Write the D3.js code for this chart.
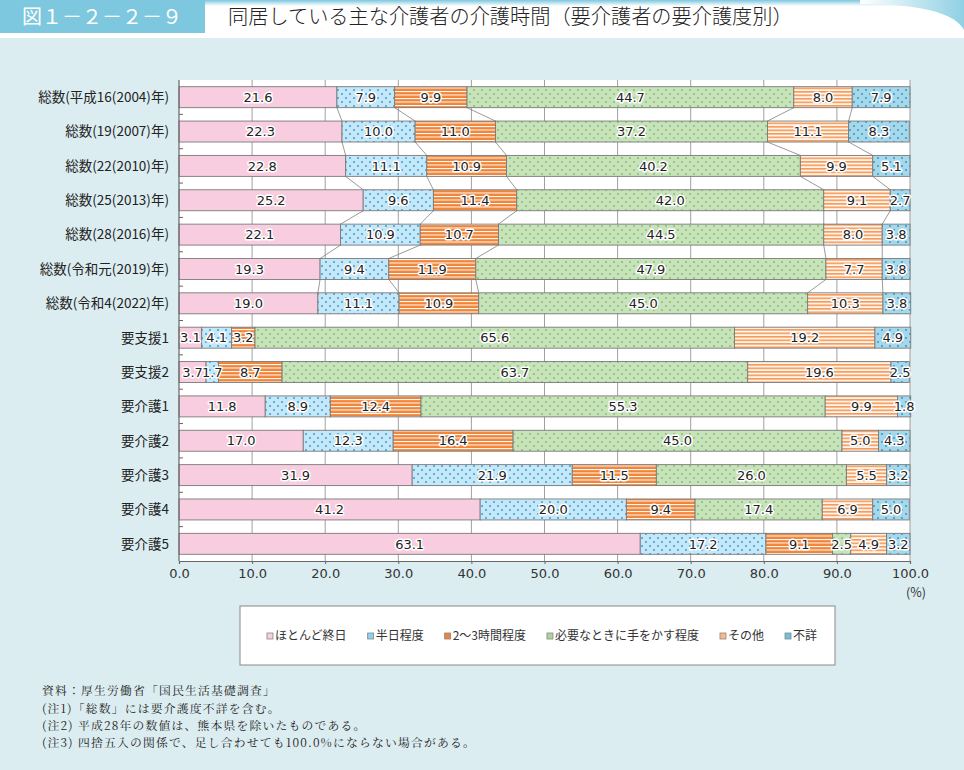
<!DOCTYPE html>
<html><head><meta charset="utf-8">
<script src="https://cdn.jsdelivr.net/npm/d3@7/dist/d3.min.js"></script>
<style>
html,body{margin:0;padding:0;background:#dcedf1;}
svg{display:block;}
</style></head>
<body>
<svg id="chart" width="964" height="770"></svg>
<script>
const categories = ["総数(平成16(2004)年)","総数(19(2007)年)","総数(22(2010)年)","総数(25(2013)年)","総数(28(2016)年)","総数(令和元(2019)年)","総数(令和4(2022)年)","要支援1","要支援2","要介護1","要介護2","要介護3","要介護4","要介護5"];
const seriesNames = ["ほとんど終日","半日程度","2～3時間程度","必要なときに手をかす程度","その他","不詳"];
const allDay   = [21.6,22.3,22.8,25.2,22.1,19.3,19.0,3.1,3.7,11.8,17.0,31.9,41.2,63.1];
const halfDay  = [7.9,10.0,11.1,9.6,10.9,9.4,11.1,4.1,1.7,8.9,12.3,21.9,20.0,17.2];
const twoThree = [9.9,11.0,10.9,11.4,10.7,11.9,10.9,3.2,8.7,12.4,16.4,11.5,9.4,9.1];
const asNeeded = [44.7,37.2,40.2,42.0,44.5,47.9,45.0,65.6,63.7,55.3,45.0,26.0,17.4,2.5];
const other    = [8.0,11.1,9.9,9.1,8.0,7.7,10.3,19.2,19.6,9.9,5.0,5.5,6.9,4.9];
const unknown  = [7.9,8.3,5.1,2.7,3.8,3.8,3.8,4.9,2.5,1.8,4.3,3.2,5.0,3.2];
const xTicks = [0,10,20,30,40,50,60,70,80,90,100];
const totalRows = 7;
const notes = ["資料：厚生労働省「国民生活基礎調査」","(注1)「総数」には要介護度不詳を含む。","(注2) 平成28年の数値は、熊本県を除いたものである。","(注3) 四捨五入の関係で、足し合わせても100.0%にならない場合がある。"];
const figNo = "図１－２－２－９";
const title = "同居している主な介護者の介護時間（要介護者の要介護度別）";

const series = [allDay,halfDay,twoThree,asNeeded,other,unknown];
const svg = d3.select("#chart");
const JP = "'Noto Sans CJK JP','Noto Sans',sans-serif";
const NUM = "'DejaVu Sans','Noto Sans CJK JP',sans-serif";

// defs: patterns
const defs = svg.append("defs");
function dots(id,bg,fg){
  const p = defs.append("pattern").attr("id",id).attr("patternUnits","userSpaceOnUse").attr("width",8).attr("height",8);
  p.append("rect").attr("width",8).attr("height",8).attr("fill",bg);
  p.append("circle").attr("cx",2).attr("cy",2).attr("r",0.9).attr("fill",fg);
  p.append("circle").attr("cx",6).attr("cy",6).attr("r",0.9).attr("fill",fg);
}
function stripes(id,bg,fg,h,lw){
  const p = defs.append("pattern").attr("id",id).attr("patternUnits","userSpaceOnUse").attr("width",4).attr("height",h);
  p.append("rect").attr("width",4).attr("height",h).attr("fill",bg);
  p.append("rect").attr("y",0).attr("width",4).attr("height",lw).attr("fill",fg);
}
dots("pHalf","#c6e7f8","#1f9bd7");
stripes("pTwo","#f0853a","#ffffff",3.5,1);
dots("pNeed","#c6e3bd","#86c04a");
stripes("pOther","#fff3ea","#f59b5a",3.5,1.6);
dots("pUnk","#a6d8ec","#2a8fc4");
const fills = ["#f8cde0","url(#pHalf)","url(#pTwo)","url(#pNeed)","url(#pOther)","url(#pUnk)"];
const legendFills = ["#f8cde0","#8fd0f0","#f0853a","#a8d59a","#f8b88a","#6fc0e0"];

const grad = defs.append("linearGradient").attr("id","gTop").attr("x1",0).attr("x2",0).attr("y1",0).attr("y2",1);
grad.append("stop").attr("offset","0%").attr("stop-color","#7cc7dd");
grad.append("stop").attr("offset","100%").attr("stop-color","#ffffff");
const grad2 = defs.append("linearGradient").attr("id","gCorner").attr("x1",0).attr("x2",1).attr("y1",0).attr("y2",0);
grad2.append("stop").attr("offset","0%").attr("stop-color","#ffffff");
grad2.append("stop").attr("offset","100%").attr("stop-color","#8fd0e4");

// header
svg.append("rect").attr("x",0).attr("y",0).attr("width",964).attr("height",38).attr("fill","#ffffff");
svg.append("rect").attr("x",205).attr("y",0).attr("width",759).attr("height",6).attr("fill","url(#gTop)");
svg.append("path").attr("d","M860,0 L964,0 L964,30 Q950,4 860,4 Z").attr("fill","url(#gCorner)");
svg.append("rect").attr("x",0).attr("y",0).attr("width",205).attr("height",33).attr("fill","#7dc8de");
svg.append("text").attr("x",22).attr("y",24).attr("font-family",JP).attr("font-size",20).attr("fill","#ffffff").text(figNo);
svg.append("text").attr("x",228).attr("y",24).attr("font-family",JP).attr("font-size",20.2).attr("font-weight",300).attr("fill","#222").text(title);

// scales
const x = d3.scaleLinear().domain([0,100]).range([179,910]);
const y = d3.scaleBand().domain(categories).range([80,561]).paddingInner(0.39).paddingOuter(0.195);
const bh = y.bandwidth();

// plot bg
svg.append("rect").attr("x",x(0)).attr("y",80).attr("width",x(100)-x(0)).attr("height",481).attr("fill","#ffffff");
// gridlines
svg.append("g").selectAll("line").data(xTicks.slice(1)).join("line")
  .attr("x1",d=>x(d)).attr("x2",d=>x(d)).attr("y1",80).attr("y2",561)
  .attr("stroke","#a0a0a0").attr("stroke-width",1);

// stacks
const rows = categories.map((c,i)=>{
  let cum=0; const segs=[];
  series.forEach((s,k)=>{ segs.push({k, v:s[i], x0:cum, x1:cum+s[i]}); cum+=s[i]; });
  return {c, segs};
});

// connectors among 総数 rows
const conn = svg.append("g");
for(let i=0;i<totalRows-1;i++){
  for(let k=0;k<5;k++){
    conn.append("line")
      .attr("x1",x(rows[i].segs[k].x1)).attr("y1",y(categories[i])+bh)
      .attr("x2",x(rows[i+1].segs[k].x1)).attr("y2",y(categories[i+1]))
      .attr("stroke","#808080").attr("stroke-width",0.8);
  }
}

const bars = svg.append("g");
rows.forEach(r=>{
  bars.selectAll(null).data(r.segs).join("rect")
    .attr("x",d=>x(d.x0)).attr("y",y(r.c)).attr("width",d=>x(d.x1)-x(d.x0)).attr("height",bh)
    .attr("fill",d=>fills[d.k]).attr("stroke","#7a7a7a").attr("stroke-width",0.9);
});
const labels = svg.append("g").attr("font-family",NUM).attr("font-size",13).attr("text-anchor","middle");
rows.forEach(r=>{
  labels.selectAll(null).data(r.segs).join("text")
    .attr("x",d=>x((d.x0+d.x1)/2)).attr("y",y(r.c)+bh/2).attr("dy","0.36em")
    .attr("fill","#222").attr("stroke","#fff").attr("stroke-width",3).attr("stroke-linejoin","round")
    .attr("paint-order","stroke")
    .text(d=>d.v.toFixed(1));
});

// left axis
svg.append("line").attr("x1",x(0)).attr("x2",x(0)).attr("y1",80).attr("y2",561).attr("stroke","#666").attr("stroke-width",1.2);
const bounds = categories.slice(1).map(c=>y(c)-y.step()*y.paddingInner()/2);
svg.append("g").selectAll("line").data(bounds).join("line")
  .attr("x1",x(0)).attr("x2",x(0)+4).attr("y1",d=>d).attr("y2",d=>d).attr("stroke","#666");
svg.append("g").selectAll("text").data(categories).join("text")
  .attr("x",169).attr("y",d=>y(d)+bh/2).attr("dy","0.36em").attr("text-anchor","end")
  .attr("font-family",JP).attr("font-size",13.5).attr("fill","#222").text(d=>d);

// bottom axis
const xa = svg.append("g").attr("transform","translate(0,561)")
  .call(d3.axisBottom(x).tickValues(xTicks).tickFormat(d3.format(".1f")).tickSize(3).tickPadding(5));
xa.select(".domain").attr("stroke","#666").attr("stroke-width",1.2);
xa.selectAll(".tick line").attr("stroke","#666");
xa.selectAll("text").attr("font-family",NUM).attr("font-size",13).attr("fill","#333");
svg.append("text").attr("x",926).attr("y",597).attr("text-anchor","end").attr("font-family",JP).attr("font-size",12.5).attr("fill","#333").text("(%)");

// legend
svg.append("rect").attr("x",240).attr("y",606).attr("width",595).attr("height",59).attr("fill","#fff").attr("stroke","#888").attr("stroke-width",1);
const lg = svg.append("g").attr("font-family",JP).attr("font-size",12).attr("fill","#333");
const items = [];
seriesNames.forEach((n,k)=>{
  const g = lg.append("g");
  g.append("rect").attr("x",0).attr("y",-3).attr("width",6).attr("height",6).attr("fill",legendFills[k]).attr("stroke","#888").attr("stroke-width",0.8);
  const t = g.append("text").attr("x",8).attr("y",0).attr("dy","0.36em").text(n);
  items.push({g, w: 8 + t.node().getComputedTextLength()});
});
const gap = 21;
const totalW = d3.sum(items,d=>d.w) + gap*(items.length-1);
let cx = 542 - totalW/2;
items.forEach(it=>{ it.g.attr("transform",`translate(${cx},636)`); cx += it.w + gap; });

// notes
svg.append("g").selectAll("text").data(notes).join("text")
  .attr("x",42).attr("y",(d,i)=>691+i*17.4).attr("dy","0.36em")
  .attr("font-family","'Noto Serif CJK JP','IPAMincho',serif").attr("font-size",11.8)
  .attr("letter-spacing",1.2).attr("fill","#222")
  .text(d=>d);
</script>
</body></html>
